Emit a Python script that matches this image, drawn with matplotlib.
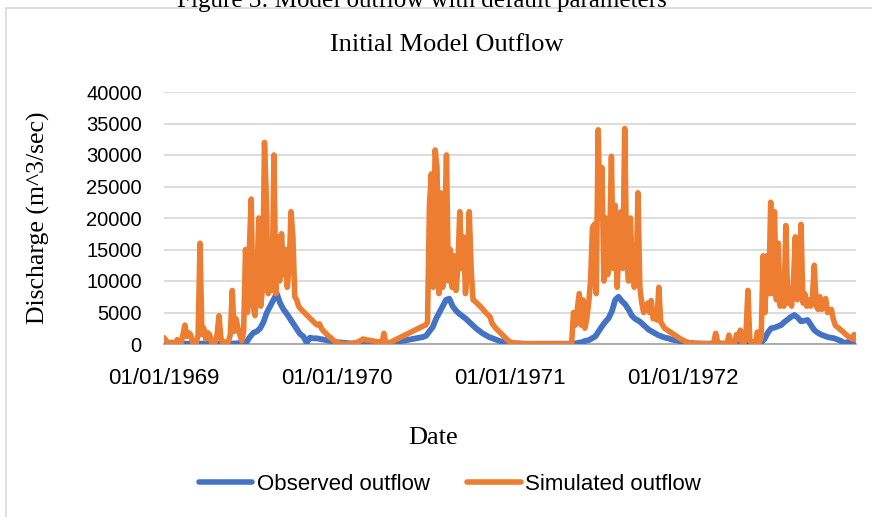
import pandas as pd
import matplotlib.pyplot as plt
import matplotlib.dates as mdates
from matplotlib.lines import Line2D
from matplotlib.patches import Rectangle

# observed outflow, one value every 7 days from 01/01/1969 (m^3/sec)
observed_1969 = [300, 200, 100, 80, 60, 50, 50, 50, 50, 50,
                 50, 50, 60, 80, 100, 80, 60, 50, 50, 50,
                 60, 80, 100, 150, 200, 400, 1200, 1800, 2000, 2500,
                 3500, 5000, 6000, 7000, 8000, 6500, 5500, 4800, 4000, 3200,
                 2400, 1600, 1200, 200, 1000, 900, 900, 800, 700, 600,
                 500, 400, 300]
observed_1970 = [250, 200, 150, 100, 100, 80, 80, 60, 60, 50,
                 50, 50, 50, 50, 60, 100, 200, 300, 400, 500,
                 600, 700, 800, 900, 1000, 1100, 1300, 2000, 2700, 4000,
                 5000, 6000, 7000, 7200, 6000, 5300, 4800, 4400, 4000, 3500,
                 3000, 2500, 2100, 1700, 1400, 1100, 900, 700, 500, 350, 250]
observed_1971 = [200, 150, 100, 80, 60, 40, 40, 40, 40, 40,
                 40, 40, 40, 40, 40, 40, 40, 40, 40, 50,
                 100, 200, 300, 500, 600, 900, 1200, 2000, 2800, 3500,
                 4100, 5200, 7000, 7500, 6800, 6300, 5500, 4500, 4000, 3700,
                 3300, 2800, 2300, 2000, 1700, 1400, 1200, 1000, 900, 700,
                 600, 500, 400]
observed_1972 = [300, 200, 150, 100, 80, 50, 50, 50, 50, 50,
                 50, 50, 50, 50, 50, 50, 50, 50, 50, 50,
                 50, 50, 100, 300, 800, 1800, 2500, 2600, 2800, 3000,
                 3500, 3900, 4300, 4600, 4200, 3600, 3700, 3800, 3000, 2200,
                 1800, 1500, 1300, 1100, 1000, 900, 700, 500, 150, 300,
                 250, 200]

# simulated outflow, one value every 4 days from 01/01/1969 (m^3/sec)
simulated_1969 = [1000, 600, 200, 100, 300, 100, 200, 700, 200, 100,
                  1500, 3000, 1200, 1800, 1500, 300, 200, 150, 1500, 16000,
                  1500, 2500, 800, 1800, 1500, 300, 200, 300, 1500, 4500,
                  1000, 200, 300, 200, 400, 1500, 8500, 2000, 4000, 2500,
                  1500, 500, 2000, 15000, 5000, 15000, 23000, 6000, 4500, 10000,
                  20000, 6000, 9000, 32000, 23000, 8000, 12000, 8500, 30000, 8000,
                  17000, 10000, 17500, 11000, 15000, 9000, 12000, 21000, 17000, 7500,
                  7000, 6000, 5600, 5300, 5000, 4700, 4400, 4100, 3800, 3500,
                  3200, 3000, 3200, 2500, 2100, 1800, 1500, 1200, 1000, 700,
                  400, 200]
simulated_1970 = [200, 100, 50, 0, 0, 0, 0, 50, 100, 200,
                  300, 400, 600, 800, 700, 650, 600, 550, 500, 450,
                  400, 350, 300, 200, 1700, 100, 50, 200, 350, 500,
                  650, 800, 950, 1100, 1250, 1400, 1550, 1700, 1850, 2000,
                  2150, 2300, 2450, 2600, 2750, 2900, 3000, 3500, 22000, 27000,
                  9000, 30800, 28000, 8000, 24000, 9000, 18000, 30000, 10000, 15000,
                  9000, 14000, 8500, 12000, 21000, 12000, 17000, 8000, 11000, 21000,
                  12000, 7000, 6800, 6500, 6200, 5900, 5600, 5200, 4900, 4600,
                  4300, 3300, 2900, 2500, 2200, 1900, 1600, 1300, 1000, 700, 400]
simulated_1971 = [300, 200, 150, 100, 80, 60, 50, 50, 40, 40,
                  30, 30, 30, 20, 20, 20, 20, 20, 20, 20,
                  20, 20, 20, 20, 20, 20, 20, 20, 20, 20,
                  20, 20, 100, 5000, 3000, 5500, 8000, 3000, 7000, 2500,
                  4000, 6500, 10000, 18500, 19000, 8000, 34000, 20000, 28000, 10000,
                  20000, 11000, 15000, 29800, 12000, 22000, 9000, 15000, 21000, 12000,
                  34200, 14000, 10000, 20000, 12000, 9000, 10000, 24000, 9000, 6500,
                  5000, 6000, 6500, 5000, 6900, 4000, 4500, 3800, 9000, 3500,
                  3000, 2500, 2300, 2100, 1900, 1700, 1500, 1300, 1100, 900,
                  700, 600]
simulated_1972 = [400, 300, 200, 150, 100, 100, 80, 80, 60, 60,
                  50, 50, 50, 50, 50, 300, 1700, 300, 100, 100,
                  100, 100, 100, 1400, 200, 150, 200, 1500, 800, 2200,
                  200, 200, 2000, 8500, 500, 300, 200, 200, 1900, 300,
                  1000, 14000, 5000, 14000, 8000, 22500, 8000, 21000, 7000, 16000,
                  6000, 9000, 6000, 18800, 6500, 8000, 6000, 10000, 17000, 7000,
                  9000, 19000, 6500, 8000, 6000, 7000, 6000, 7500, 12500, 6000,
                  5500, 7500, 5500, 6500, 7200, 5000, 5200, 5500, 4000, 3000,
                  2700, 2500, 2200, 2000, 1700, 1400, 1200, 1000, 800, 1500, 600]

observed = observed_1969 + observed_1970 + observed_1971 + observed_1972
simulated = simulated_1969 + simulated_1970 + simulated_1971 + simulated_1972
obs_dates = pd.date_range('1969-01-01', periods=len(observed), freq='7D')
sim_dates = pd.date_range('1969-01-01', periods=len(simulated), freq='4D')
year_ticks = pd.to_datetime(['1969-01-01', '1970-01-01', '1971-01-01', '1972-01-01'])

blue = '#4472C4'
orange = '#ED7D31'
serif = 'Liberation Serif'
sans = 'Liberation Sans'
W, H = 872, 517

fig = plt.figure(figsize=(W / 100, H / 100), dpi=100)
ax = fig.add_axes([164 / W, 1 - 344 / H, 692 / W, 252 / H])

ax.plot(obs_dates, observed, color=blue, lw=4.2, solid_joinstyle='round',
        solid_capstyle='round', zorder=3)
ax.plot(sim_dates, simulated, color=orange, lw=4.0, solid_joinstyle='round',
        solid_capstyle='round', zorder=4)

ax.set_ylim(0, 40000)
ax.set_yticks(range(0, 40001, 5000))
ax.set_xlim(pd.Timestamp('1969-01-01'), pd.Timestamp('1972-12-31'))
ax.set_xticks(year_ticks)
ax.xaxis.set_major_formatter(mdates.DateFormatter('%m/%d/%Y'))

ax.yaxis.grid(True, color='#D9D9D9', lw=1.3)
ax.set_axisbelow(True)
for s in ['top', 'right', 'left']:
    ax.spines[s].set_visible(False)
ax.spines['bottom'].set_color('#A6A6A6')
ax.spines['bottom'].set_linewidth(1.3)
ax.tick_params(length=0)
ax.tick_params(axis='y', pad=16)
ax.tick_params(axis='x', pad=17)
for t in ax.get_yticklabels():
    t.set_fontfamily(sans)
    t.set_fontsize(14.5)
for t in ax.get_xticklabels():
    t.set_fontfamily(sans)
    t.set_fontsize(16)

# caption of the page, cut by the top edge as in the source image
fig.text(422 / W, 1 - 7 / H, 'Figure 3: Model outflow with default parameters',
         ha='center', va='baseline', family=serif, size=18)
fig.text(447 / W, 1 - 45 / H, 'Initial Model Outflow', ha='center', va='center',
         family=serif, size=19)
fig.text(38 / W, 1 - 218 / H, 'Discharge (m^3/sec)', rotation=90, ha='center',
         va='center', family=serif, size=18.5)
fig.text(433 / W, 1 - 438 / H, 'Date', ha='center', va='center', family=serif, size=19)

handles = [Line2D([], [], color=blue, lw=4, solid_capstyle='round'),
           Line2D([], [], color=orange, lw=4, solid_capstyle='round')]
fig.legend(handles, ['Observed outflow', 'Simulated outflow'], loc='center',
           bbox_to_anchor=(450 / W, 1 - 484 / H), ncol=2, frameon=False,
           prop={'family': sans, 'size': 16}, handlelength=2.4,
           handletextpad=0.2, columnspacing=1.7)

fig.patches.append(Rectangle((6 / W, -0.1), 1.2, 1.1 - 8 / H, transform=fig.transFigure,
                             fill=False, ec='#D9D9D9', lw=1.2))

fig.savefig('out.png', dpi=100)
